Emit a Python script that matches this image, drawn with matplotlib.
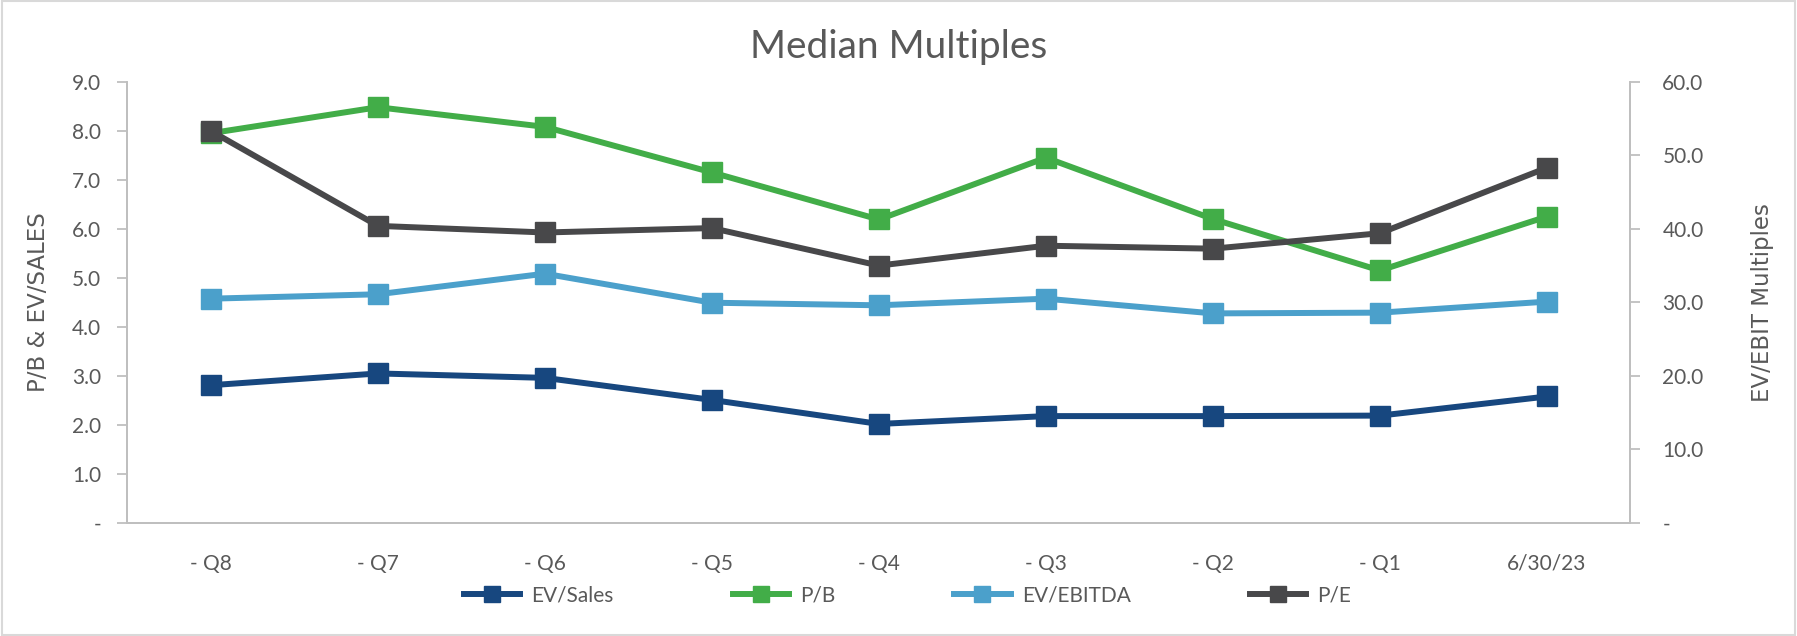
import matplotlib
matplotlib.use("Agg")
import matplotlib.pyplot as plt
from matplotlib.patches import Rectangle

categories = ["- Q8", "- Q7", "- Q6", "- Q5", "- Q4", "- Q3", "- Q2", "- Q1", "6/30/23"]
ev_sales = [2.81, 3.05, 2.96, 2.51, 2.02, 2.18, 2.18, 2.19, 2.58]
p_b = [7.95, 8.48, 8.08, 7.15, 6.19, 7.45, 6.20, 5.15, 6.25]
ev_ebitda = [30.5, 31.1, 33.9, 29.95, 29.6, 30.5, 28.5, 28.6, 30.1]
p_e = [53.3, 40.4, 39.5, 40.1, 35.0, 37.7, 37.3, 39.4, 48.3]

left_ticks = [0, 1, 2, 3, 4, 5, 6, 7, 8, 9]
left_labels = ["-"] + [f"{v:.1f}" for v in left_ticks[1:]]
right_ticks = [0, 10, 20, 30, 40, 50, 60]
right_labels = ["-"] + [f"{v:.1f}" for v in right_ticks[1:]]

C_SALES = "#17477f"
C_PB = "#42ad48"
C_EBITDA = "#4ba0cb"
C_PE = "#48484a"
TXT = "#595959"
AX = "#bfbfbf"

narrow = ["Lato", "DejaVu Sans"]

fig = plt.figure(figsize=(17.97, 6.36), dpi=100)
ax = fig.add_axes([0.0709, 0.1777, 0.8364, 0.6938])
ax2 = ax.twinx()

x = list(range(len(categories)))
lw = 4.3
ms = 15
l1, = ax.plot(x, ev_sales, color=C_SALES, lw=lw, marker="s", ms=ms, label="EV/Sales")
l2, = ax.plot(x, p_b, color=C_PB, lw=lw, marker="s", ms=ms, label="P/B")
l3, = ax2.plot(x, ev_ebitda, color=C_EBITDA, lw=lw, marker="s", ms=ms, label="EV/EBITDA")
l4, = ax2.plot(x, p_e, color=C_PE, lw=lw, marker="s", ms=ms, label="P/E")

ax.set_xlim(-0.5, len(categories) - 0.5)
ax.set_ylim(0, 9)
ax2.set_ylim(0, 60)

ax.set_yticks(left_ticks)
ax.set_yticklabels(left_labels, family=narrow, fontsize=15, color=TXT)
ax2.set_yticks(right_ticks)
ax2.set_yticklabels(right_labels, family=narrow, fontsize=15, color=TXT)
ax.set_xticks(x)
ax.set_xticklabels(categories, family=narrow, fontsize=15, color=TXT)

for a in (ax, ax2):
    a.spines["top"].set_visible(False)
    for s in ("left", "right", "bottom"):
        a.spines[s].set_color(AX)
        a.spines[s].set_linewidth(1.3)
ax.tick_params(axis="y", length=7, width=1.3, color=AX, pad=12)
ax2.tick_params(axis="y", length=7, width=1.3, color=AX, pad=16)
ax.tick_params(axis="x", length=0, pad=22)

ax.set_ylabel("P/B & EV/SALES", fontsize=16.5, color=TXT, family="DejaVu Sans", labelpad=16)
ax2.set_ylabel("EV/EBIT Multiples", fontsize=16.5, color=TXT, family="DejaVu Sans", labelpad=34)

fig.text(0.5, 0.926, "Median Multiples", ha="center", va="center",
         fontsize=28, color=TXT, family=narrow)

leg = fig.legend([l1, l2, l3, l4], ["EV/Sales", "P/B", "EV/EBITDA", "P/E"],
                 loc="center", bbox_to_anchor=(0.505, 0.064), ncol=4, frameon=False,
                 prop={"family": narrow, "size": 15}, handlelength=2.7,
                 columnspacing=5.7, handletextpad=0.55, markerscale=0.75)
for t in leg.get_texts():
    t.set_color(TXT)

fig.patches.append(Rectangle((0.001, 0.002), 0.998, 0.996, transform=fig.transFigure,
                             fill=False, edgecolor="#d9d9d9", lw=1.5))

fig.savefig("out.png", dpi=100)
